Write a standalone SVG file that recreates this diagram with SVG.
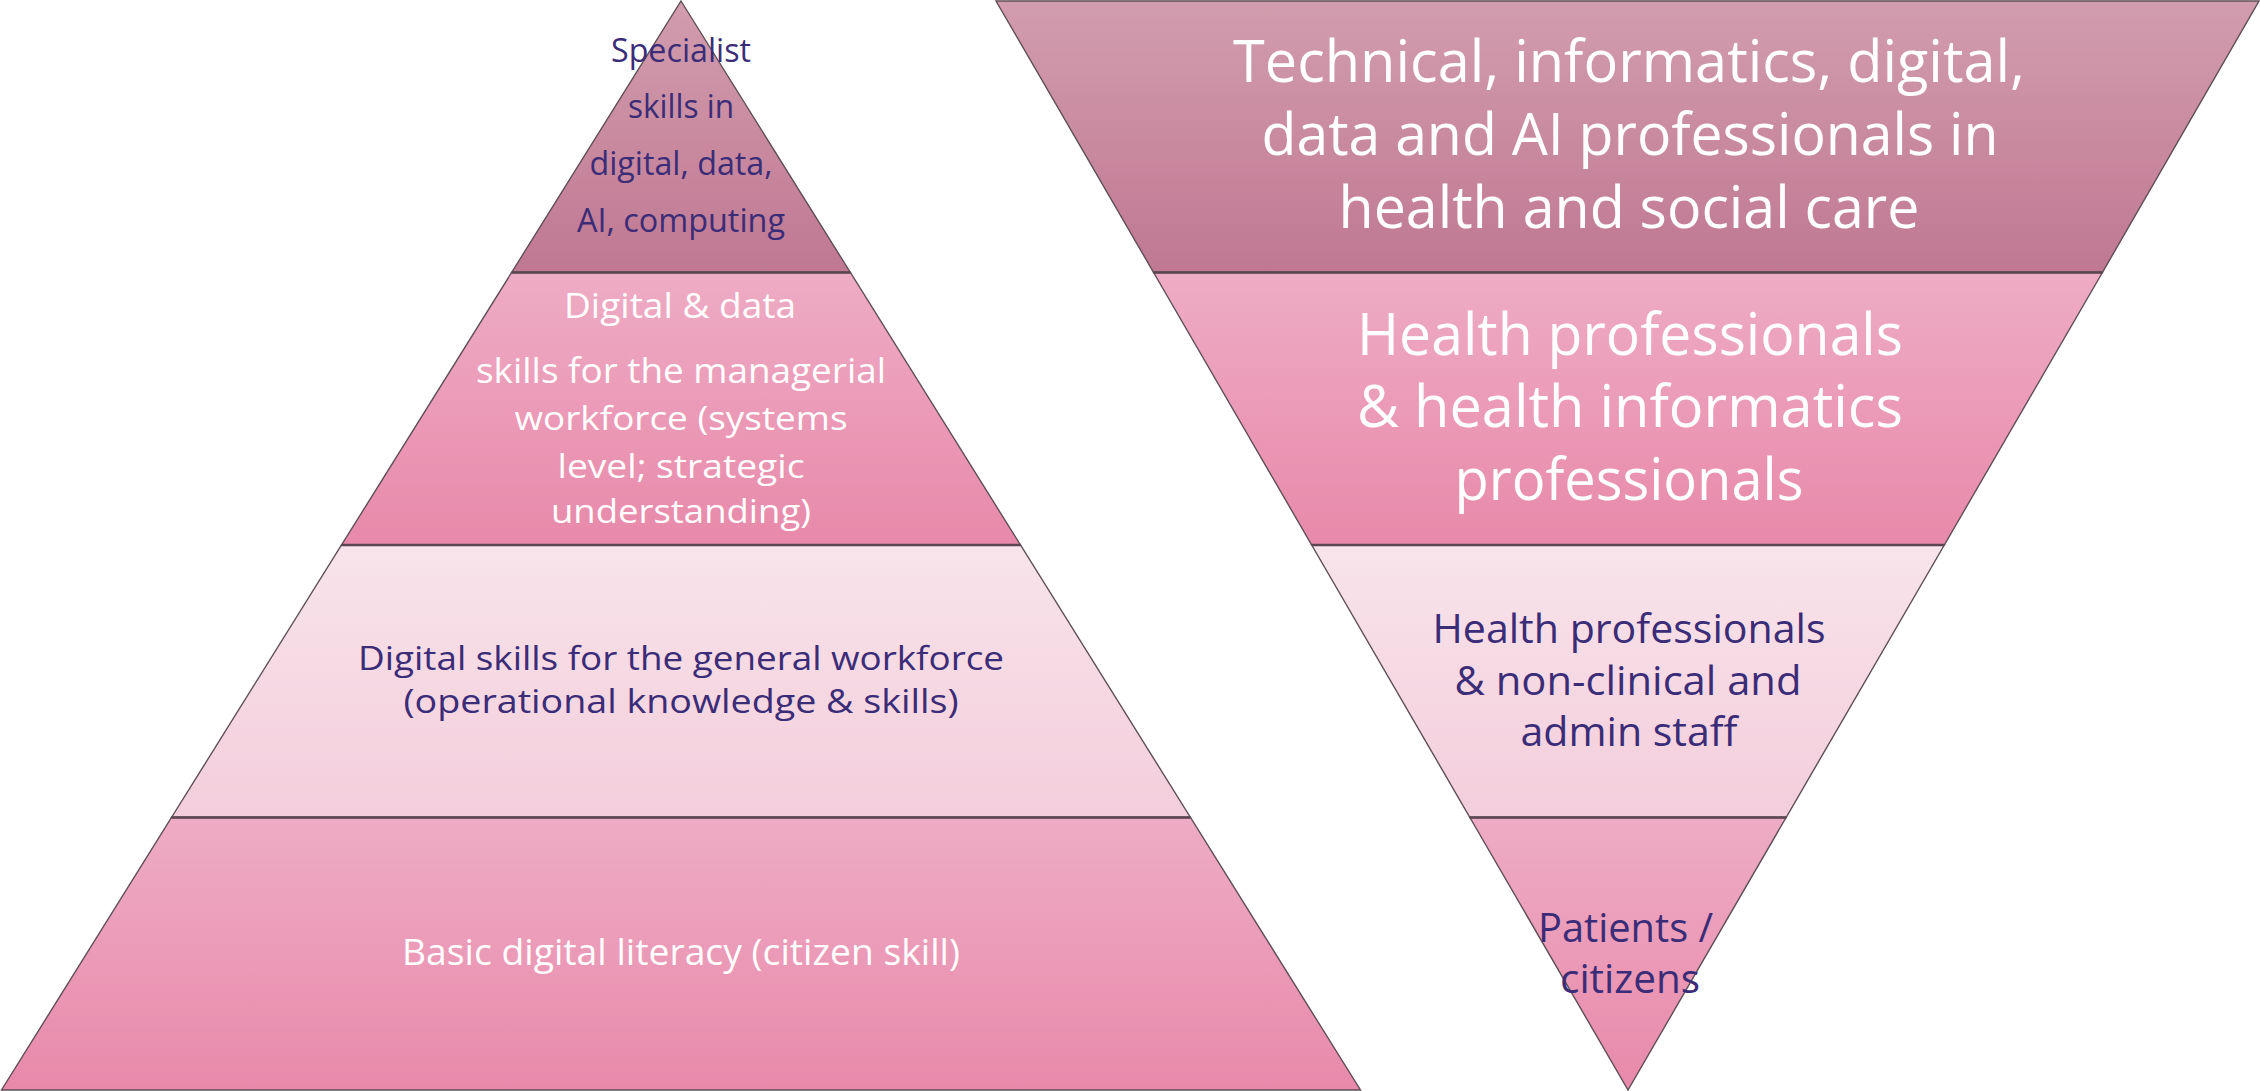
<svg xmlns="http://www.w3.org/2000/svg" width="2260" height="1091" viewBox="0 0 2260 1091">
  <defs>
    <linearGradient id="gMauve" x1="0" y1="0" x2="0" y2="1">
      <stop offset="0" stop-color="#d29dae"/>
      <stop offset="1" stop-color="#c07892"/>
    </linearGradient>
    <linearGradient id="gPink" x1="0" y1="0" x2="0" y2="1">
      <stop offset="0" stop-color="#eeacc4"/>
      <stop offset="1" stop-color="#e889aa"/>
    </linearGradient>
    <linearGradient id="gLight" x1="0" y1="0" x2="0" y2="1">
      <stop offset="0" stop-color="#f8e4eb"/>
      <stop offset="1" stop-color="#f3cddb"/>
    </linearGradient>
  </defs>
  <style>
    .band { stroke: #5e4e57; stroke-width: 1.4; stroke-linejoin: miter; }
    .sep { stroke: #5a4550; stroke-width: 2.5; }
    .mauve { fill: url(#gMauve); }
    .pink { fill: url(#gPink); }
    .light { fill: url(#gLight); }
    text { font-family: "Open Sans", "Liberation Sans", sans-serif; text-anchor: middle; }
    .w { fill: #ffffff; }
    .p { fill: #3b2c78; }
  </style>

  <rect width="2260" height="1091" fill="#ffffff"/>

  <!-- Left pyramid -->
  <g id="left-specialist">
    <polygon class="band mauve" points="681,1 850.4,272.5 511.6,272.5"/>
    <text class="p" font-size="32" x="681" y="62" textLength="140" lengthAdjust="spacingAndGlyphs">Specialist</text>
    <text class="p" font-size="32" x="681" y="118" textLength="106" lengthAdjust="spacingAndGlyphs">skills in</text>
    <text class="p" font-size="32" x="681" y="175" textLength="183" lengthAdjust="spacingAndGlyphs">digital, data,</text>
    <text class="p" font-size="32" x="681" y="232" textLength="208" lengthAdjust="spacingAndGlyphs">AI, computing</text>
  </g>
  <g id="left-managerial">
    <polygon class="band pink" points="511.6,272.5 850.4,272.5 1020.5,545 341.5,545"/>
    <text class="w" font-size="34" x="680" y="318" textLength="232" lengthAdjust="spacingAndGlyphs">Digital &amp; data</text>
    <text class="w" font-size="34" x="681" y="383" textLength="410" lengthAdjust="spacingAndGlyphs">skills for the managerial</text>
    <text class="w" font-size="33" x="681" y="430" textLength="333" lengthAdjust="spacingAndGlyphs">workforce (systems</text>
    <text class="w" font-size="33" x="681" y="478" textLength="247" lengthAdjust="spacingAndGlyphs">level; strategic</text>
    <text class="w" font-size="33" x="681" y="523" textLength="260" lengthAdjust="spacingAndGlyphs">understanding)</text>
  </g>
  <g id="left-general">
    <polygon class="band light" points="341.5,545 1020.5,545 1190.5,817.5 171.5,817.5"/>
    <text class="p" font-size="33" x="681" y="670" textLength="646" lengthAdjust="spacingAndGlyphs">Digital skills for the general workforce</text>
    <text class="p" font-size="33" x="681" y="713" textLength="555" lengthAdjust="spacingAndGlyphs">(operational knowledge &amp; skills)</text>
  </g>
  <g id="left-basic">
    <polygon class="band pink" points="171.5,817.5 1190.5,817.5 1360.5,1090 1.5,1090"/>
    <text class="w" font-size="36" x="681" y="965" textLength="558" lengthAdjust="spacingAndGlyphs">Basic digital literacy (citizen skill)</text>
  </g>

  <!-- Right inverted pyramid -->
  <g id="right-technical">
    <polygon class="band mauve" points="996,1 2259,1 2102.4,272.5 1153.6,272.5"/>
    <text class="w" font-size="58" x="1629" y="82" textLength="792" lengthAdjust="spacingAndGlyphs">Technical, informatics, digital,</text>
    <text class="w" font-size="58" x="1630" y="155" textLength="737" lengthAdjust="spacingAndGlyphs">data and AI professionals in</text>
    <text class="w" font-size="58" x="1629" y="228" textLength="581" lengthAdjust="spacingAndGlyphs">health and social care</text>
  </g>
  <g id="right-health-informatics">
    <polygon class="band pink" points="1153.6,272.5 2102.4,272.5 1944.3,545 1311.7,545"/>
    <text class="w" font-size="58" x="1630" y="355" textLength="546" lengthAdjust="spacingAndGlyphs">Health professionals</text>
    <text class="w" font-size="58" x="1630" y="427" textLength="546" lengthAdjust="spacingAndGlyphs">&amp; health informatics</text>
    <text class="w" font-size="58" x="1629" y="500" textLength="349" lengthAdjust="spacingAndGlyphs">professionals</text>
  </g>
  <g id="right-nonclinical">
    <polygon class="band light" points="1311.7,545 1944.3,545 1786.1,817.5 1469.9,817.5"/>
    <text class="p" font-size="40" x="1629" y="643" textLength="393" lengthAdjust="spacingAndGlyphs">Health professionals</text>
    <text class="p" font-size="40" x="1628" y="695" textLength="347" lengthAdjust="spacingAndGlyphs">&amp; non-clinical and</text>
    <text class="p" font-size="40" x="1629" y="746" textLength="217" lengthAdjust="spacingAndGlyphs">admin staff</text>
  </g>
  <g id="right-patients">
    <polygon class="band pink" points="1469.9,817.5 1786.1,817.5 1628,1090"/>
    <text class="p" font-size="40" x="1625.5" y="942" textLength="175" lengthAdjust="spacingAndGlyphs">Patients /</text>
    <text class="p" font-size="40" x="1630" y="993" textLength="140" lengthAdjust="spacingAndGlyphs">citizens</text>
  </g>

  <!-- Band separator lines -->
  <g id="connectors">
    <line class="sep" x1="511.6" y1="272.5" x2="850.4" y2="272.5"/>
    <line class="sep" x1="341.5" y1="545" x2="1020.5" y2="545"/>
    <line class="sep" x1="171.5" y1="817.5" x2="1190.5" y2="817.5"/>
    <line class="sep" x1="1153.6" y1="272.5" x2="2102.4" y2="272.5"/>
    <line class="sep" x1="1311.7" y1="545" x2="1944.3" y2="545"/>
    <line class="sep" x1="1469.9" y1="817.5" x2="1786.1" y2="817.5"/>
  </g>
</svg>
